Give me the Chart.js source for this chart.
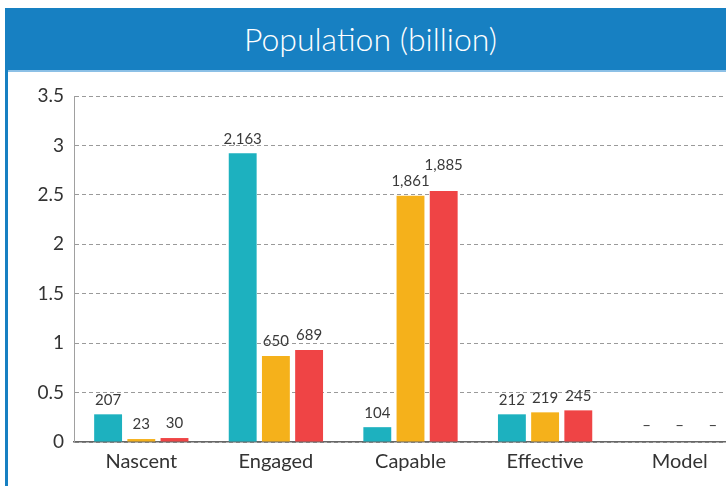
<!DOCTYPE html>
<html>
<head>
<meta charset="utf-8">
<script src="https://cdn.jsdelivr.net/npm/chart.js@4"></script>
<style>
  html, body { margin: 0; padding: 0; background: #fff; overflow: hidden; }
  #frame { position: absolute; left: 5px; top: 8px; width: 740px; height: 490px; border-left: 3px solid #1780c2; box-sizing: border-box; }
  #header { position: absolute; left: 5px; top: 8px; width: 740px; height: 62px; background: #1780c2; color: #fff;
    font-family: Lato, sans-serif; font-weight: 300; font-size: 32px; line-height: 62px; text-align: center; box-sizing: border-box; }
  #header span { position: absolute; left: 0; top: 0; width: 731px; text-align: center; }
  #edge { position: absolute; left: 8px; top: 70px; width: 740px; height: 2px; background: #8cc0e6; }
  #wrap { position: absolute; left: 0; top: 70px; width: 748px; height: 416px; }
</style>
</head>
<body>
<div id="frame"></div>
<div id="header"><span>Population (billion)</span></div>
<div id="edge"></div>
<div id="wrap"><canvas id="chart"></canvas></div>
<script>
const categories = ['Nascent', 'Engaged', 'Capable', 'Effective', 'Model'];
const seriesA = [0.28, 2.92, 0.15, 0.28, 0];
const seriesB = [0.03, 0.87, 2.49, 0.30, 0];
const seriesC = [0.04, 0.93, 2.54, 0.32, 0];
const labelsA = ['207', '2,163', '104', '212', '–'];
const labelsB = ['23', '650', '1,861', '219', '–'];
const labelsC = ['30', '689', '1,885', '245', '–'];
const colors = ['#1db1bf', '#f5b11b', '#ef4445'];

// value labels above bars, lifted when they would collide with the neighbour
const valueLabels = {
  id: 'valueLabels',
  afterDatasetsDraw(chart) {
    const ctx = chart.ctx;
    ctx.save();
    ctx.font = '15px Lato, sans-serif';
    ctx.fillStyle = '#3a3a3a';
    ctx.textAlign = 'center';
    ctx.textBaseline = 'bottom';
    const n = chart.data.labels.length;
    for (let j = 0; j < n; j++) {
      let prev = null;
      chart.data.datasets.forEach((ds, i) => {
        const el = chart.getDatasetMeta(i).data[j];
        const text = ds.valueLabels[j];
        const w = ctx.measureText(text).width;
        let y = el.y - (ds.data[j] === 0 ? 9 : 7);
        if (prev && el.x - w / 2 < prev.x + prev.w / 2 + 2 && Math.abs(y - prev.y) < 16) {
          y = prev.y - 16;
        }
        ctx.fillText(text, el.x, y);
        prev = {x: el.x, y: y, w: w};
      });
    }
    ctx.restore();
  }
};

new Chart(document.getElementById('chart'), {
  type: 'bar',
  data: {
    labels: categories,
    datasets: [
      { data: seriesA, valueLabels: labelsA, backgroundColor: colors[0] },
      { data: seriesB, valueLabels: labelsB, backgroundColor: colors[1] },
      { data: seriesC, valueLabels: labelsC, backgroundColor: colors[2] },
    ],
  },
  options: {
    responsive: true,
    maintainAspectRatio: false,
    animation: false,
    layout: { padding: { top: 26, right: 1, bottom: 12 } },
    datasets: { bar: { categoryPercentage: 0.74, barPercentage: 0.84 } },
    plugins: { legend: { display: false }, tooltip: { enabled: false } },
    scales: {
      x: {
        grid: { display: false },
        border: { display: true, color: '#666', width: 1.5 },
        ticks: { color: '#333', font: { family: 'Lato, sans-serif', size: 20 }, padding: 0 },
      },
      y: {
        min: 0,
        max: 3.5,
        afterFit: s => { s.width = 74; },
        grid: { color: '#9a9a9a', drawTicks: false },
        border: { display: true, color: '#a0a0a0', dash: [4, 3] },
        ticks: {
          stepSize: 0.5,
          color: '#333',
          font: { family: 'Lato, sans-serif', size: 19 },
          padding: 10,
          callback: v => String(v),
        },
      },
    },
  },
  plugins: [valueLabels],
});
</script>
</body>
</html>
